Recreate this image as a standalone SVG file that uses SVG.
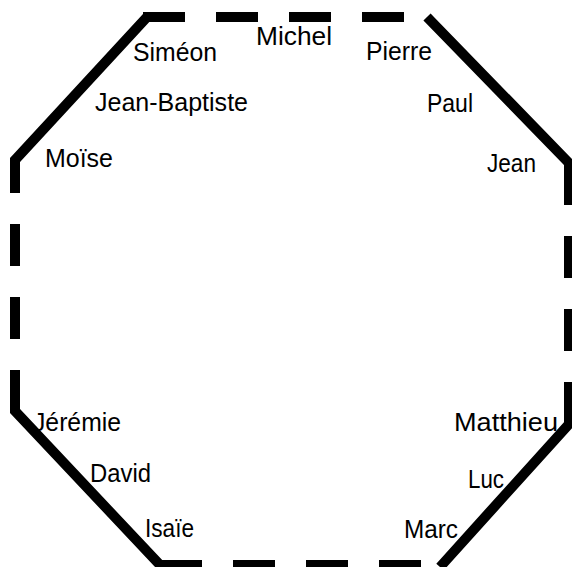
<svg xmlns="http://www.w3.org/2000/svg" width="572" height="567" viewBox="0 0 572 567">
<style>
  .lbl { font-family: "Liberation Sans", Arial, sans-serif; font-size: 25px; fill: #000; }
  .solid { fill: none; stroke: #000; stroke-width: 10; stroke-linejoin: miter; stroke-miterlimit: 10; }
  .dash { fill: none; stroke: #000; stroke-width: 10; stroke-dasharray: 42 31; }
</style>
<rect width="572" height="567" fill="#fff"/>
<g id="labels">
  <g id="simeon"><text class="lbl" x="133" y="61" textLength="84" lengthAdjust="spacingAndGlyphs">Siméon</text></g>
  <g id="michel"><text class="lbl" x="256" y="45" textLength="76" lengthAdjust="spacingAndGlyphs">Michel</text></g>
  <g id="pierre"><text class="lbl" x="366" y="60" textLength="66" lengthAdjust="spacingAndGlyphs">Pierre</text></g>
  <g id="jean-baptiste"><text class="lbl" x="95" y="111" textLength="153" lengthAdjust="spacingAndGlyphs">Jean-Baptiste</text></g>
  <g id="paul"><text class="lbl" x="427" y="112" textLength="46" lengthAdjust="spacingAndGlyphs">Paul</text></g>
  <g id="moise"><text class="lbl" x="45" y="167" textLength="68" lengthAdjust="spacingAndGlyphs">Moïse</text></g>
  <g id="jean"><text class="lbl" x="487" y="172" textLength="49" lengthAdjust="spacingAndGlyphs">Jean</text></g>
  <g id="jeremie"><text class="lbl" x="33" y="431" textLength="88" lengthAdjust="spacingAndGlyphs">Jérémie</text></g>
  <g id="matthieu"><text class="lbl" x="454" y="431" textLength="104" lengthAdjust="spacingAndGlyphs">Matthieu</text></g>
  <g id="david"><text class="lbl" x="90" y="482" textLength="61" lengthAdjust="spacingAndGlyphs">David</text></g>
  <g id="luc"><text class="lbl" x="468" y="488" textLength="36" lengthAdjust="spacingAndGlyphs">Luc</text></g>
  <g id="isaie"><text class="lbl" x="145" y="537" textLength="49" lengthAdjust="spacingAndGlyphs">Isaïe</text></g>
  <g id="marc"><text class="lbl" x="404" y="538" textLength="54" lengthAdjust="spacingAndGlyphs">Marc</text></g>
</g>
<g id="connectors">
  <polyline class="solid" points="15,192 15,160 147,17 185,17"/>
  <polyline class="solid" points="427,17 569,163 569,205"/>
  <polyline class="solid" points="569,382 569,424 440,567"/>
  <polyline class="solid" points="15,370 15,411 160,565 202,565"/>
  <line class="dash" x1="143" y1="17" x2="405" y2="17"/>
  <line class="dash" x1="15" y1="412" x2="15" y2="160"/>
  <line class="dash" x1="569" y1="424" x2="569" y2="163"/>
  <line class="dash" x1="160" y1="565" x2="422" y2="565"/>
</g>
</svg>
